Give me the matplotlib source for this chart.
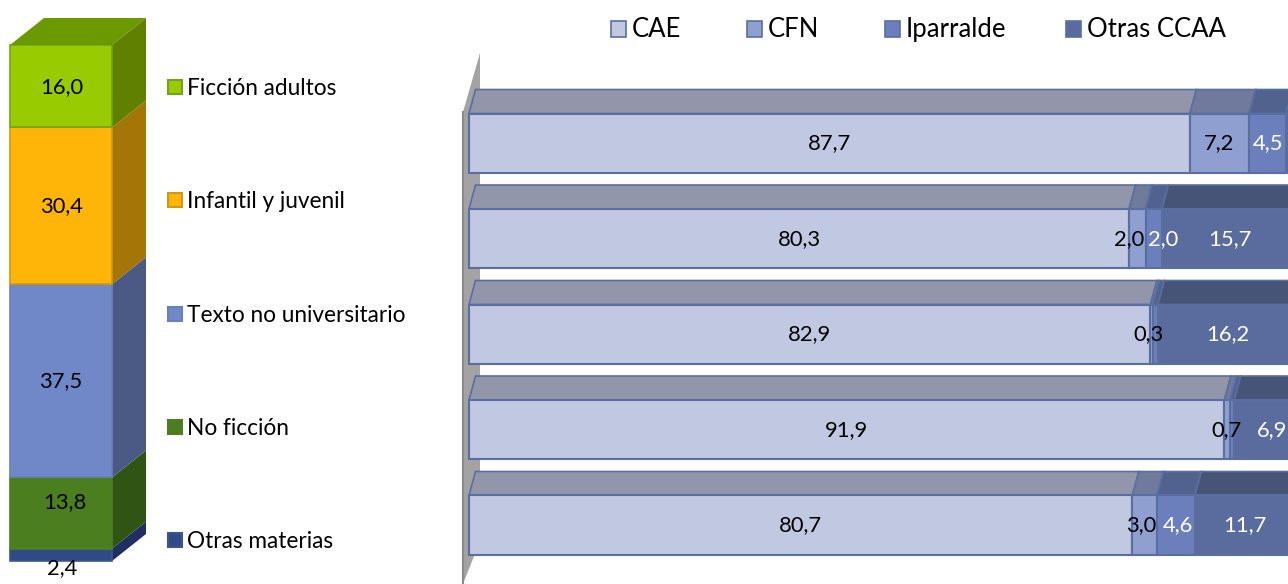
import matplotlib
matplotlib.use('Agg')
import matplotlib.pyplot as plt
from matplotlib.patches import Rectangle

plt.rcParams['font.family'] = ['Lato', 'DejaVu Sans']

W, H = 1288, 584

# left stacked column, bottom to top
materias = ['Otras materias', 'No ficción', 'Texto no universitario', 'Infantil y juvenil', 'Ficción adultos']
materias_val = [2.4, 13.8, 37.5, 30.4, 16.0]

# right bars, top to bottom
zonas = ['CAE', 'CFN', 'Iparralde', 'Otras CCAA']
cae = [87.7, 80.3, 82.9, 91.9, 80.7]
cfn = [7.2, 2.0, 0.3, 0.7, 3.0]
iparralde = [4.5, 2.0, 0.6, 0.5, 4.6]
otras = [0.6, 15.7, 16.2, 6.9, 11.7]
series = [cae, cfn, iparralde, otras]

# styles
mat_front = ['#2f4a85', '#4a7e1e', '#7088c8', '#ffb508', '#99cc00']
mat_side = ['#1f2f60', '#305414', '#4a5a85', '#a67508', '#5f8000']
mat_edge = ['#3a5590', '#4f7d25', '#6a80bb', '#d09a10', '#6fa51c']
mat_top = '#6b9900'
zona_front = ['#c0c8e2', '#8f9fd0', '#6b7fbc', '#5a6c9e']
zona_top = ['#9196ab', '#6f7a9c', '#52628e', '#465478']
zona_text = ['black', 'black', 'white', 'white']
edge = '#5a6fa0'
# label nudges in percent units, None = no label in the chart
label_nudge = [
    [0, 0, 0, 0, 0],
    [0, -1.0, -0.4, -0.1, -0.4],
    [0, 1.1, None, None, 0.3],
    [None, 0.4, 0.4, 1.2, 0.2],
]

fig = plt.figure(figsize=(W / 100, H / 100), dpi=100)

# left column: x in pixels, y in percent
ax1 = fig.add_axes([0, 0, 1, 1])
px_pct = 5.155
ax1.set_xlim(0, W)
ax1.set_ylim(-(H - 561) / px_pct, 561 / px_pct)
ax1.axis('off')
x0, bw = 10, 102
dx, dy = 34, 27 / px_pct
bottom = 0
for v, c, s, e in zip(materias_val, mat_front, mat_side, mat_edge):
    ax1.fill([x0 + bw, x0 + bw + dx, x0 + bw + dx, x0 + bw],
             [bottom, bottom + dy, bottom + v + dy, bottom + v], color=s, lw=0)
    ax1.bar(x0, v, width=bw, bottom=bottom, align='edge', color=c, edgecolor=e, linewidth=1.2)
    bottom += v
ax1.fill([x0, x0 + dx, x0 + bw + dx, x0 + bw],
         [bottom, bottom + dy, bottom + dy, bottom], color=mat_top, lw=0)

# right bars: x in percent, y in row index
ax2 = fig.add_axes([0, 0, 1, 1])
ax2.patch.set_alpha(0)
px_x, px_y = 8.22, 95.5
ax2.set_xlim(-469 / px_x, (W - 469) / px_x)
ax2.set_ylim((H - 143) / px_y, -143 / px_y)
ax2.axis('off')
ddx, ddy = 6.5 / px_x, 24 / px_y
bh = 59 / px_y

# back wall
wl, wr = -6 / px_x, 11 / px_x
ax2.fill([wl, wl, wr, wr], [(584 - 143) / px_y, (112 - 143) / px_y, (53 - 143) / px_y, (541 - 143) / px_y],
         color='#a3a3a3', lw=0)
ax2.plot([wl, wl], [(584 - 143) / px_y, (112 - 143) / px_y], color='#8c8c8c', lw=1.5)

for r in range(len(cae)):
    left = 0
    for k in range(4):
        v = series[k][r]
        top = r - bh / 2
        ax2.fill([left, left + ddx, left + v + ddx, left + v],
                 [top, top - ddy, top - ddy, top],
                 facecolor=zona_top[k], edgecolor=edge, lw=1.2)
        ax2.barh(r, v, height=bh, left=left, color=zona_front[k], edgecolor=edge, linewidth=1.5)
        left += v

for r in range(len(cae)):
    left = 0
    for k in range(4):
        v = series[k][r]
        nudge = label_nudge[k][r]
        if nudge is not None:
            ax2.text(left + v / 2 + nudge, r + 0.005, str(v).replace('.', ','), ha='center', va='center',
                     fontsize=15.8, color=zona_text[k])
        left += v

# overlay in pixels for legends and column labels
ax3 = fig.add_axes([0, 0, 1, 1])
ax3.patch.set_alpha(0)
ax3.set_xlim(0, W)
ax3.set_ylim(H, 0)
ax3.axis('off')

col_label_x = [62, 65, 61, 62, 62]
col_label_y = [568, 502, 381, 206, 87]
for v, x, y in zip(materias_val, col_label_x, col_label_y):
    ax3.text(x, y, str(v).replace('.', ','), ha='center', va='center', fontsize=15.8, color='black')

leg_y = [541, 428, 315, 201, 88]
for name, y, c, e in zip(materias, leg_y, mat_front, mat_edge):
    ax3.add_patch(Rectangle((168, y - 8), 14, 14, facecolor=c, edgecolor=e, lw=1.5))
    ax3.text(187, y + 7, name, ha='left', va='baseline', fontsize=16.3, color='black')

leg_x = [611, 747, 885, 1066]
for name, x, c in zip(zonas, leg_x, zona_front):
    ax3.add_patch(Rectangle((x, 21), 15, 16, facecolor=c, edgecolor=edge, lw=1.2))
    ax3.text(x + 21, 37, name, ha='left', va='baseline', fontsize=18.5, color='black')

fig.savefig('out.png', dpi=100)
